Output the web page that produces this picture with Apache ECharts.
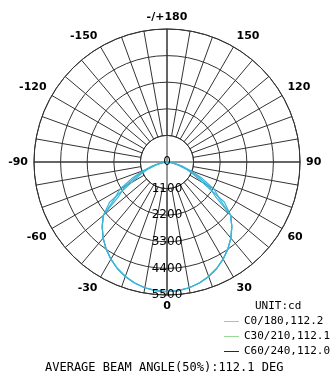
<!DOCTYPE html>
<html>
<head>
<meta charset="utf-8">
<script src="https://cdn.jsdelivr.net/npm/echarts@6/dist/echarts.min.js"></script>
<style>html,body{margin:0;padding:0;background:#fff}#c{width:336px;height:384px}</style>
</head>
<body>
<div id="c"></div>
<script>
// Angles (deg, 0 = nadir, positive = right side)
const angles = [-90,-85,-80,-75,-70,-65,-60,-55,-50,-45,-40,-35,-30,-25,-20,-15,-10,-5,0,5,10,15,20,25,30,35,40,45,50,55,60,65,70,75,80,85,90];
// Intensities (cd)
const c0_180  = [0,100,300,620,1050,1600,2250,2650,3440,3790,4110,4390,4640,4860,5040,5180,5280,5340,5360,5340,5280,5180,5040,4860,4640,4390,4110,3790,3440,2650,2250,1600,1050,620,300,100,0];
const c30_210 = [0,80,250,500,800,1200,1700,2900,3440,3790,4110,4390,4640,4860,5040,5180,5280,5340,5360,5340,5280,5180,5040,4860,4640,4390,4110,3790,3440,2900,1700,1200,800,500,250,80,0];
const c60_240 = [0,60,200,500,900,1400,2000,2400,3440,3790,4110,4390,4640,4860,5040,5180,5280,5340,5360,5340,5280,5180,5040,4860,4640,4390,4110,3790,3440,2400,2000,1400,900,500,200,60,0];
const seriesNames = ['C0/180,112.2','C30/210,112.1','C60/240,112.0'];
const legendColors = ['#e6a6a6','#9ad89a','#1c1c96'];
const radiusTicks = [0,1100,2200,3300,4400,5500];
const unitText = 'UNIT:cd';
const beamText = 'AVERAGE BEAM ANGLE(50%):112.1 DEG';

const curveColor = '#3cb6d8';
const gridColor = '#333';
const C = [167, 162];
const R = 133;
const RMAX = radiusTicks[radiusTicks.length-1];
const RIN = R * radiusTicks[1] / RMAX;

function toPts(vals){ return angles.map((a,i)=>[vals[i], a < 0 ? a + 360 : a]); }
function angLabel(v){
  if (v === 360) return '';
  if (v === 180) return '-/+180';
  return String(v <= 180 ? v : v - 360);
}

const chart = echarts.init(document.getElementById('c'), null, {renderer:'canvas'});
const baseAngle = {type:'value', min:0, max:360, startAngle:270, clockwise:false,
  axisTick:{show:false}};
chart.setOption({
  animation:false,
  title:[
    {text:unitText, left:255, top:301, padding:0, textStyle:{fontFamily:'DejaVu Sans Mono', fontSize:11, fontWeight:'normal', color:'#000'}},
    {text:beamText, left:45, top:362, padding:0, textStyle:{fontFamily:'DejaVu Sans Mono', fontSize:12, fontWeight:'normal', color:'#000'}}
  ],
  legend:{
    orient:'vertical', left:224, top:316, padding:0, itemWidth:15, itemHeight:1, itemGap:4,
    icon:'rect', itemTextGap:4,
    textStyle:{fontFamily:'DejaVu Sans Mono', fontSize:11, color:'#000'},
    data: seriesNames.map((n,i)=>({name:n, itemStyle:{color:legendColors[i]}}))
  },
  polar:[
    {center:C, radius:[RIN, R]},
    {center:C, radius:[0, R]},
    {center:C, radius:[0, R]}
  ],
  angleAxis:[
    Object.assign({}, baseAngle, {polarIndex:0, interval:10,
      axisLine:{show:true, lineStyle:{color:gridColor, width:1}},
      axisLabel:{show:false},
      splitLine:{show:true, lineStyle:{color:gridColor, width:1}}}),
    Object.assign({}, baseAngle, {polarIndex:1, interval:30,
      axisLine:{show:false},
      axisLabel:{show:true, formatter:angLabel, margin:6, fontFamily:'DejaVu Sans', fontWeight:'bold', fontSize:11, color:'#000'},
      splitLine:{show:false}}),
    Object.assign({}, baseAngle, {polarIndex:2, interval:90,
      axisLine:{show:false}, axisLabel:{show:false},
      splitLine:{show:true, lineStyle:{color:gridColor, width:1}}})
  ],
  radiusAxis:[
    {polarIndex:0, type:'value', min:radiusTicks[1], max:RMAX, interval:1100,
      axisLine:{show:false}, axisTick:{show:false}, axisLabel:{show:false},
      splitLine:{show:true, lineStyle:{color:gridColor, width:1}}},
    {polarIndex:1, type:'value', min:0, max:RMAX, interval:1100, z:10,
      axisLine:{show:false}, axisTick:{show:false},
      axisLabel:{show:true, margin:0, align:'center', verticalAlign:'middle', padding:[0,0,4,0], formatter:v=>String(v), fontFamily:'DejaVu Sans', fontSize:12, color:'#000'},
      splitLine:{show:false}},
    {polarIndex:2, type:'value', min:0, max:RMAX, show:false, splitLine:{show:false}}
  ],
  series:[c0_180, c30_210, c60_240].map((vals,i)=>({
    name:seriesNames[i], type:'line', coordinateSystem:'polar', polarIndex:1,
    showSymbol:false, symbol:'none', smooth:false,
    lineStyle:{color:curveColor, width:1.2}, itemStyle:{color:legendColors[i]},
    data: toPts(vals), z:5
  }))
});
</script>
</body>
</html>
